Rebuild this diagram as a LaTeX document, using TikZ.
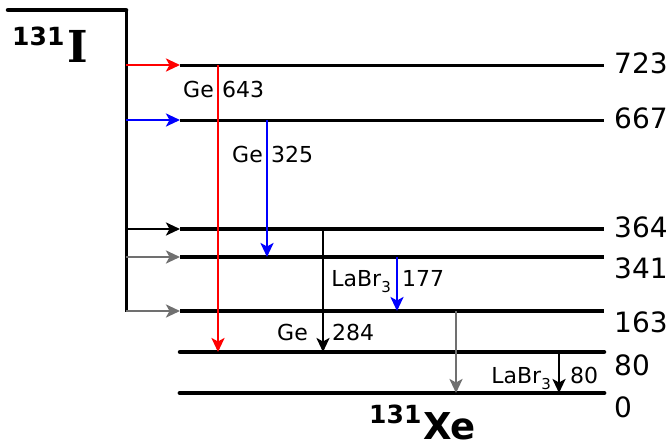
\documentclass[tikz,border=0pt]{standalone}
\usepackage{fontspec}
\setmainfont{DejaVu Sans}
\newfontfamily\serifbold{DejaVu Serif}
\usetikzlibrary{arrows.meta}
\definecolor{fgray}{RGB}{112,112,112}
\definecolor{fred}{RGB}{255,0,0}
\definecolor{fblue}{RGB}{0,0,255}
\begin{document}
\begin{tikzpicture}[x=1pt,y=-1pt,
  thinlvl/.style={line width=3pt},
  midlvl/.style={line width=3.4pt},
  thicklvl/.style={line width=4.5pt},
  feed/.style={line width=2.8pt,-{Stealth[length=14pt,width=13pt,inset=3.5pt]}},
  gam/.style={line width=2.8pt,-{Stealth[length=14pt,width=13pt,inset=3.5pt]}},
  lab/.style={font=\fontsize{22}{22}\selectfont, inner sep=0pt},
  elab/.style={font=\fontsize{28}{28}\selectfont, inner sep=0pt, anchor=base west}]
\useasboundingbox (0,0) rectangle (671,445);
% parent 131I
\coordinate (Ia) at (8,10);
\coordinate (Ib) at (126,10);
\coordinate (Ic) at (126,312);
\draw[line width=4.5pt, line cap=round] (Ia) -- (Ib);
\draw[line width=3pt] (Ib) -- (Ic);
\node[anchor=base west, inner sep=0pt, font=\fontsize{25}{25}\selectfont\bfseries] (Imass) at (12,45) {131};
\node[anchor=base west, inner sep=0pt, font=\fontsize{44}{44}\selectfont\serifbold\bfseries] (Isym) at (67,62) {I};
% levels
\coordinate (L723a) at (180,65);  \coordinate (L723b) at (604,65);
\coordinate (L667a) at (180,120); \coordinate (L667b) at (604,120);
\coordinate (L364a) at (180,229); \coordinate (L364b) at (604,229);
\coordinate (L341a) at (180,257); \coordinate (L341b) at (604,257);
\coordinate (L163a) at (180,311); \coordinate (L163b) at (604,311);
\coordinate (L80a) at (180,352);  \coordinate (L80b) at (604,352);
\coordinate (L0a) at (180,393);   \coordinate (L0b) at (604,393);
\draw[thinlvl] (L723a) -- (L723b);
\draw[thinlvl] (L667a) -- (L667b);
\draw[thicklvl] (L364a) -- (L364b);
\draw[thicklvl] (L341a) -- (L341b);
\draw[midlvl] (L163a) -- (L163b);
\draw[thicklvl, line cap=round] (L80a) -- (L80b);
\draw[line width=4.8pt, line cap=round] (L0a) -- (L0b);
% level energies
\node[elab] (E723) at (614,73) {723};
\node[elab] (E667) at (614,128) {667};
\node[elab] (E364) at (614,237) {364};
\node[elab] (E341) at (614,278) {341};
\node[elab] (E163) at (614,332) {163};
\node[elab] (E80) at (614,375) {80};
\node[elab] (E0) at (614,417) {0};
% feeding arrows
\coordinate (F723) at (126,65);
\coordinate (F667) at (126,120);
\coordinate (F364) at (126,229);
\coordinate (F341) at (126,257);
\coordinate (F163) at (126,311);
\draw[feed, fred] (F723) -- (L723a);
\draw[feed, fblue] (F667) -- (L667a);
\draw[feed, black] (F364) -- (L364a);
\draw[feed, fgray] (F341) -- (L341a);
\draw[feed, fgray] (F163) -- (L163a);
% gamma transitions
\coordinate (g643a) at (218,65);  \coordinate (g643b) at (218,352);
\coordinate (g325a) at (267,120); \coordinate (g325b) at (267,257);
\coordinate (g284a) at (323,229); \coordinate (g284b) at (323,352);
\coordinate (g177a) at (397,257); \coordinate (g177b) at (397,311);
\coordinate (g163a) at (456,311); \coordinate (g163b) at (456,393);
\coordinate (g80a) at (559,352);  \coordinate (g80b) at (559,393);
\draw[gam, fred] (g643a) -- (g643b);
\draw[gam, fblue] (g325a) -- (g325b);
\draw[gam, black] (g284a) -- (g284b);
\draw[gam, fblue] (g177a) -- (g177b);
\draw[gam, fgray] (g163a) -- (g163b);
\draw[gam, black] (g80a) -- (g80b);
% gamma labels
\node[lab, anchor=base east] (d643) at (214,97) {Ge};
\node[lab, anchor=base west] (e643) at (222,97) {643};
\node[lab, anchor=base east] (d325) at (263,162) {Ge};
\node[lab, anchor=base west] (e325) at (271,162) {325};
\node[lab, anchor=base east] (d284) at (308,340) {Ge};
\node[lab, anchor=base west] (e284) at (332,340) {284};
\node[lab, anchor=base east] (d177) at (391,286) {LaBr\raisebox{-0.28em}{\fontsize{15}{15}\selectfont 3}};
\node[lab, anchor=base west] (e177) at (402,286) {177};
\node[lab, anchor=base east] (d80) at (551,383) {LaBr\raisebox{-0.28em}{\fontsize{15}{15}\selectfont 3}};
\node[lab, anchor=base west] (e80) at (570,383) {80};
% daughter 131Xe
\node[anchor=base west, inner sep=0pt, font=\fontsize{25}{25}\selectfont\bfseries] (Xmass) at (369,423) {131};
\node[anchor=base west, inner sep=0pt, font=\fontsize{37}{37}\selectfont\bfseries] (Xsym) at (423,439) {Xe};
\end{tikzpicture}
\end{document}
